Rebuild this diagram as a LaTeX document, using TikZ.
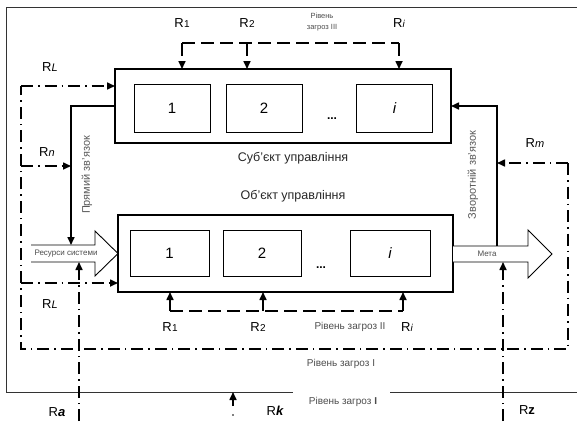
\documentclass[tikz,border=0pt]{standalone}
\usepackage{fontspec}
\setmainfont{Liberation Sans}
\usetikzlibrary{arrows.meta}
\newcommand\Rlab[1]{R\kern0.2pt\raisebox{-0.8pt}{\fontsize{10}{10}\selectfont #1}}
\begin{document}
\begin{tikzpicture}[x=1pt,y=-1pt,
  box/.style={draw, line width=1pt, minimum width=76pt, minimum height=48pt, inner sep=0pt, outer sep=0pt, font=\fontsize{15}{17}\selectfont},
  bigbox/.style={draw, line width=2pt, inner sep=0pt, outer sep=0pt},
  conn/.style={line width=1.6pt},
  tip/.style={-{Triangle[length=8pt,width=7pt]}},
  dd/.style={line width=1.6pt, dash pattern=on 12pt off 5pt on 1.5pt off 5pt},
  dsh/.style={line width=1.6pt, dash pattern=on 13pt off 6pt},
  frame/.style={line width=0.9pt, draw=black!80},
  lbl/.style={font=\fontsize{13}{15}\selectfont, inner sep=0pt},
  mid/.style={font=\fontsize{12.5}{15}\selectfont, inner sep=0pt, text=black!85},
  small/.style={font=\fontsize{10}{12}\selectfont, inner sep=0pt, text=black!70},
  tiny/.style={font=\fontsize{8}{10}\selectfont, inner sep=0pt, text=black!70},
  rot/.style={font=\fontsize{11}{13}\selectfont, inner sep=0pt, text=black!65, rotate=90},
  bigarrow/.style={draw, line width=0.9pt, fill=white},
]
\useasboundingbox (0,0) rectangle (577,421);
% outer frame
\coordinate (f1) at (577,7);
\coordinate (f2) at (6,7);
\coordinate (f3) at (6,392);
\coordinate (f4) at (293,392);
\coordinate (f5) at (390,392);
\coordinate (f6) at (577,392);
\draw[frame] (f1) -- (f2) -- (f3) -- (f4);
\draw[frame] (f5) -- (f6);

% subject box
\node[bigbox, minimum width=336pt, minimum height=74pt] (S) at (283,106) {};
\node[box] (s1) at (172,108) {1};
\node[box] (s2) at (264,108) {2};
\node[box] (si) at (394.5,108) {\itshape i};
\node[font=\bfseries\fontsize{12}{14}\selectfont, inner sep=0pt] (sd) at (332,119) {...};
\node[mid] (st) at (293,158) {Суб’єкт управління};

% object box
\node[bigbox, minimum width=335pt, minimum height=77pt] (O) at (285.5,253.5) {};
\node[box, minimum width=79pt, minimum height=46pt] (o1) at (169.5,253) {1};
\node[box, minimum width=78pt, minimum height=46pt] (o2) at (262,253) {2};
\node[box, minimum width=80pt, minimum height=46pt] (oi) at (390,253) {\itshape i};
\node[font=\bfseries\fontsize{12}{14}\selectfont, inner sep=0pt] (od) at (321,268) {...};
\node[mid] (ot) at (293,196) {Об’єкт управління};

% resources arrow
\coordinate (ra0) at (31,245);
\coordinate (ra1) at (95,245);
\coordinate (ra2) at (95,231);
\coordinate (ra3) at (O.west);
\coordinate (ra4) at (95,276);
\coordinate (ra5) at (95,262);
\coordinate (ra6) at (31,262);
\fill[white] (ra0) -- (ra1) -- (ra2) -- (ra3) -- (ra4) -- (ra5) -- (ra6) -- cycle;
\draw[line width=0.9pt] (ra0) -- (ra1) -- (ra2) -- (ra3) -- (ra4) -- (ra5) -- (ra6);
\node[tiny] (res) at (66,253.5) {Ресурси системи};

% goal arrow
\coordinate (ga0) at (453,246);
\coordinate (ga1) at (528,246);
\coordinate (ga2) at (528,230);
\coordinate (ga3) at (552,254);
\coordinate (ga4) at (528,278);
\coordinate (ga5) at (528,262);
\coordinate (ga6) at (453,262);
\draw[bigarrow] (ga0) -- (ga1) -- (ga2) -- (ga3) -- (ga4) -- (ga5) -- (ga6);
\node[tiny] (meta) at (487,254) {Мета};

% forward link
\coordinate (fw) at (71,106);
\draw[conn,tip] (S.west |- fw) -- (fw) -- (fw |- ra0);
\node[rot] (fwt) at (87,175) {Прямий зв’язок};

% feedback link
\coordinate (fb) at (497,106);
\draw[conn,tip] (fb |- ga0) -- (fb) -- (fb -| S.east);
\node[rot] (fbt) at (473,175) {Зворотній зв’язок};

% level III
\coordinate (l3a) at (182,43);
\coordinate (l3b) at (247,43);
\coordinate (l3c) at (399,43);
\draw[dsh] (l3a) -- (l3c);
\draw[dsh,tip] (l3a) -- (l3a |- S.north);
\draw[dsh,tip] (l3b) -- (l3b |- S.north);
\draw[dsh,tip] (l3c) -- (l3c |- S.north);
\node[lbl] (r1t) at (182,23) {\Rlab{1}};
\node[lbl] (r2t) at (247,23) {\Rlab{2}};
\node[lbl] (rit) at (399,23) {\Rlab{\itshape i}};
\node[tiny, align=center, font=\fontsize{7.5}{10.5}\selectfont] (l3t) at (322,22) {Рівень\\загроз ІІІ};

% level II
\coordinate (l2a) at (170,311);
\coordinate (l2b) at (263,311);
\coordinate (l2c) at (403,311);
\draw[dsh] (l2a) -- (l2c);
\draw[dsh,tip] (l2a) -- (l2a |- O.south);
\draw[dsh,tip] (l2b) -- (l2b |- O.south);
\draw[dsh,tip] (l2c) -- (l2c |- O.south);
\node[lbl] (r1b) at (170,327) {\Rlab{1}};
\node[lbl] (r2b) at (258,327) {\Rlab{2}};
\node[lbl] (rib) at (407,327) {\Rlab{\itshape i}};
\node[small] (l2t) at (350,327) {Рівень загроз ІІ};

% level I
\coordinate (c1) at (21,86);
\coordinate (c2) at (21,349);
\coordinate (c3) at (568,349);
\coordinate (c4) at (568,163);
\draw[dd] (c4) -- (c3) -- (c2) -- (c1);
\draw[dd,tip] (c1) -- (c1 -| S.west);
\coordinate (rn) at (21,166);
\draw[dd,tip] (rn) -- (rn -| fw);
\coordinate (rl2) at (21,283);
\draw[dd,tip] (rl2) -- (rl2 -| O.west);
\draw[dd,tip] (c4) -- (c4 -| fb);
\node[small] (l1t) at (341,364) {Рівень загроз І};
\node[lbl] (rlu) at (50,67) {R{\itshape\fontsize{11}{11}\selectfont L}};
\node[lbl] (rnl) at (47,152) {R{\itshape\fontsize{11}{11}\selectfont n}};
\node[lbl] (rll) at (50,304) {R{\itshape\fontsize{11}{11}\selectfont L}};
\node[lbl] (rml) at (535,143) {R{\itshape\fontsize{11}{11}\selectfont m}};

% external threats
\coordinate (ab) at (79,421);
\draw[dd,tip] (ab) -- (ab |- ra6);
\coordinate (zb) at (503,421);
\draw[dd,tip] (zb) -- (zb |- ga6);
\coordinate (kb) at (233,406);
\draw[conn,tip] (kb) -- (kb |- f3);
\fill (233,415) circle (0.9pt);
\node[lbl] (ral) at (57,412) {R{\bfseries\itshape a}};
\node[lbl] (rkl) at (275,411) {R{\bfseries\itshape k}};
\node[lbl] (rzl) at (527,410) {R{\bfseries z}};
\node[small] (l0t) at (343,402) {Рівень загроз \textbf{І}};
\end{tikzpicture}
\end{document}
